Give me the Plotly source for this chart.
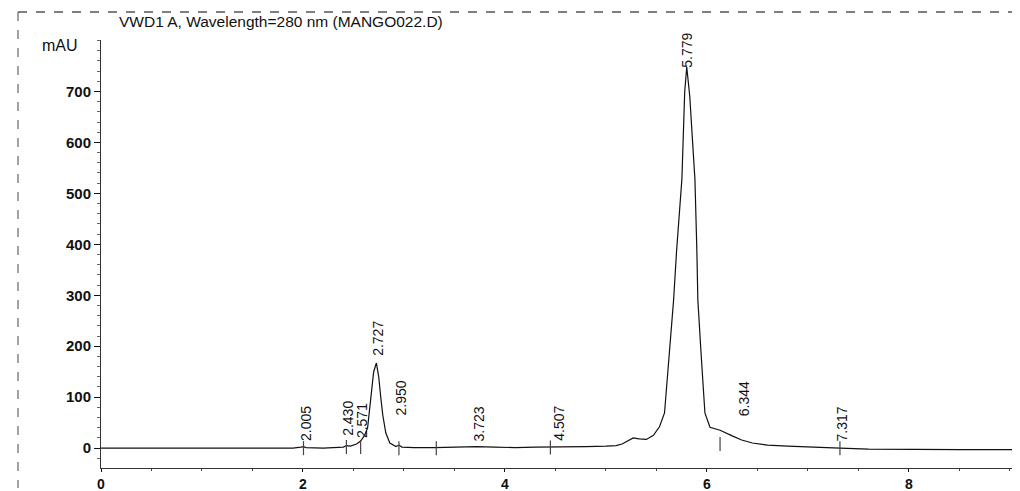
import plotly.graph_objects as go

# ---- data ----
time_min = [0.0, 0.5, 1.0, 1.5, 1.9, 1.98, 2.005, 2.03, 2.2, 2.40, 2.43, 2.47, 2.53,
            2.571, 2.61, 2.64, 2.68, 2.70, 2.727, 2.75, 2.77, 2.79, 2.82, 2.86, 2.92,
            2.95, 2.98, 3.1, 3.3, 3.5, 3.723, 3.9, 4.1, 4.3, 4.45, 4.507, 4.6, 4.8,
            5.0, 5.1, 5.16, 5.22, 5.27, 5.33, 5.40, 5.47, 5.53, 5.58, 5.63, 5.67, 5.70,
            5.752, 5.78, 5.80, 5.83, 5.86, 5.881, 5.90, 5.91, 5.94, 5.98, 6.03, 6.13,
            6.25, 6.344, 6.45, 6.6, 6.8, 7.0, 7.317, 7.6, 8.0, 8.5, 9.1]
signal_mau = [0, 0, 0, 0, 0, 2, 3, 1, 0, 2, 5, 4, 8,
              14, 25, 40, 110, 150, 167, 140, 100, 65, 30, 10, 3,
              6, 2, 1, 1, 2, 3, 2, 1, 2, 2, 3, 2, 3,
              4, 5, 8, 15, 20, 18, 17, 25, 42, 69, 192, 291, 389,
              528, 700, 748, 690, 600, 528, 389, 291, 192, 69, 41, 35,
              24, 16, 10, 6, 4, 2, 0, -2, -3, -3, -3]

peak_rt = [2.005, 2.430, 2.571, 2.727, 2.950, 3.723, 4.507, 5.779, 6.344, 7.317]
peak_labels = ["2.005", "2.430", "2.571", "2.727", "2.950", "3.723", "4.507",
               "5.779", "6.344", "7.317"]

event_rt = [2.005, 2.43, 2.571, 2.95, 3.32, 4.45, 6.13, 7.317]
event_mau = [0, 2, 2, 0, 0, 1, 8, 0]

x_ticks = [0, 2, 4, 6, 8]
y_ticks = [0, 100, 200, 300, 400, 500, 600, 700]

# ---- layout settings (placement of labels, not data) ----
label_base = [10, 20, 16, 177, 61, 10, 10, 743, 59, 10]

FONT = "Liberation Sans, Arial, sans-serif"
INK = "#111111"

# the page body has an 8px margin, so the figure is offset by 8px
OFF = 8
W, H = 1020 - OFF, 491 - OFF
L, R, T, B = 101 - OFF, 0, 40 - OFF, 23
pw, ph = W - L - R, H - T - B

def px(xp):  # page pixel -> paper x
    return (xp - OFF - L) / pw

def py(yp):  # page pixel -> paper y
    return (H - B - (yp - OFF)) / ph

fig = go.Figure()
fig.add_trace(go.Scatter(x=time_min, y=signal_mau, mode="lines",
                         line=dict(color=INK, width=1.2), hoverinfo="skip",
                         showlegend=False))
fig.add_trace(go.Scatter(x=event_rt, y=event_mau, mode="markers",
                         marker=dict(symbol="line-ns", size=10,
                                     line=dict(color="#444", width=1.2)),
                         hoverinfo="skip", showlegend=False))

for rt, txt, yb in zip(peak_rt, peak_labels, label_base):
    fig.add_annotation(x=rt, y=yb, text=txt, textangle=-90, showarrow=False,
                       xanchor="center", yanchor="bottom", xshift=2,
                       font=dict(family=FONT, size=14, color=INK))

fig.add_annotation(xref="paper", yref="paper", x=px(117), y=py(22),
                   text="VWD1 A, Wavelength=280 nm (MANGO022.D)", showarrow=False,
                   xanchor="left", yanchor="middle",
                   font=dict(family=FONT, size=15.5, color=INK))
fig.add_annotation(xref="paper", yref="paper", x=px(80), y=py(45), text="mAU",
                   showarrow=False, xanchor="right", yanchor="middle",
                   font=dict(family=FONT, size=16, color=INK))

# scanned page frame (dashed)
fig.add_shape(type="line", xref="paper", yref="paper", x0=px(18), x1=px(1020),
              y0=py(12), y1=py(12), line=dict(color="#555", width=1.5, dash="dash"))
fig.add_shape(type="line", xref="paper", yref="paper", x0=px(18), x1=px(18),
              y0=py(12), y1=py(488), line=dict(color="#666", width=1.2, dash="dash"))

fig.update_layout(
    width=W, height=H,
    margin=dict(l=L, r=R, t=T, b=B, autoexpand=False),
    paper_bgcolor="white", plot_bgcolor="white",
    font=dict(family=FONT, color=INK),
    xaxis=dict(range=[0, 9.1], tickvals=x_ticks, ticks="outside", ticklen=3,
               tickcolor=INK, showline=True, linecolor="#333", linewidth=1,
               showgrid=False, zeroline=False,
               tickfont=dict(family=FONT, size=14, weight="bold", color=INK),
               minor=dict(dtick=0.5, ticks="outside", ticklen=2, tickcolor="#444"),
               automargin=False),
    yaxis=dict(range=[-39, 801], tickvals=y_ticks, ticks="outside", ticklen=6,
               tickcolor=INK, showline=True, linecolor="#333", linewidth=1,
               showgrid=False, zeroline=False,
               tickfont=dict(family=FONT, size=15, weight="bold", color=INK),
               minor=dict(dtick=20, ticks="outside", ticklen=3, tickcolor="#666"),
               automargin=False),
)

fig.write_html("out.html")
